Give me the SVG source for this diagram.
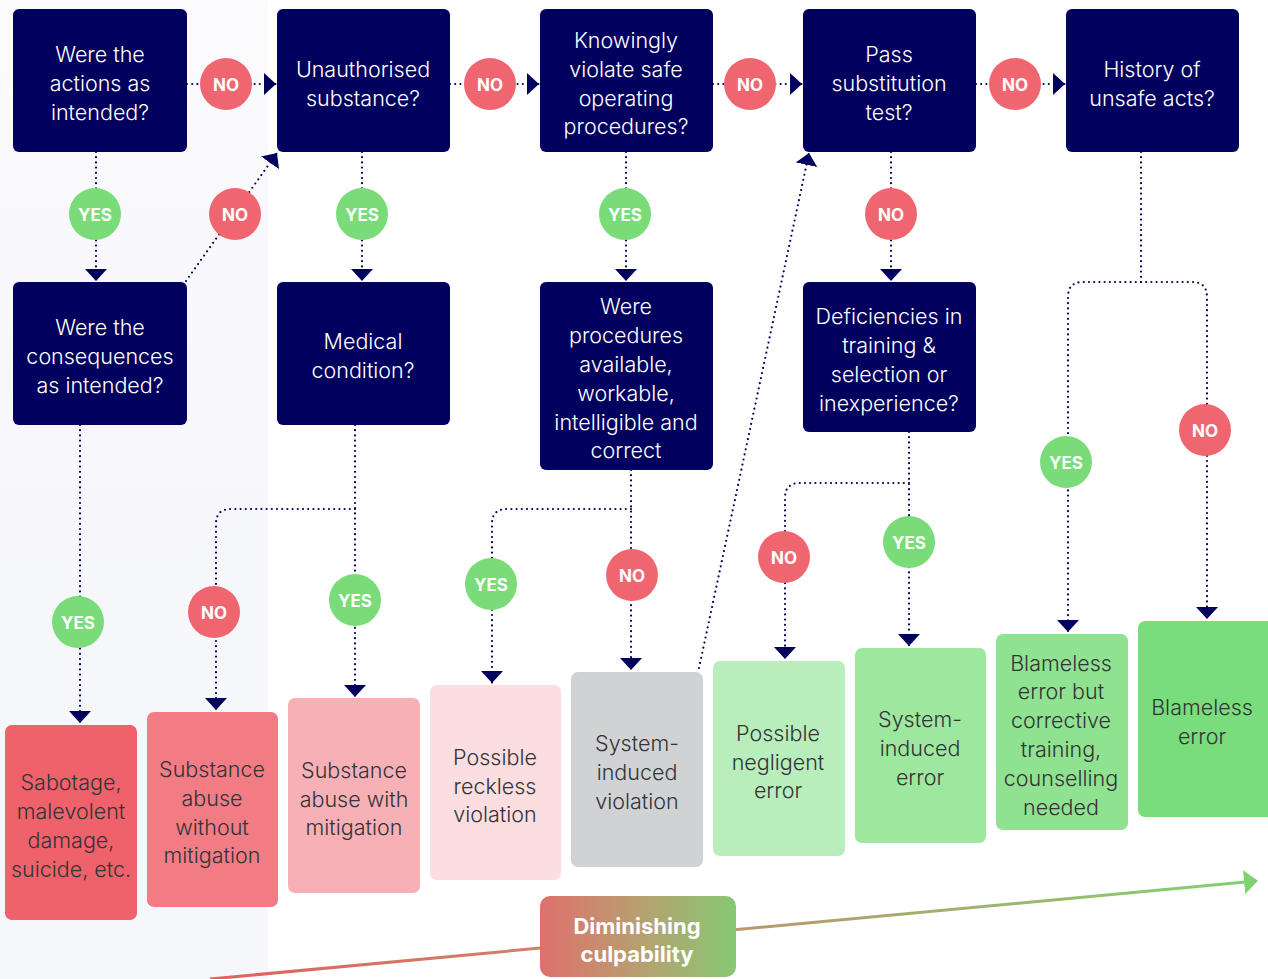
<svg xmlns="http://www.w3.org/2000/svg" width="1268" height="979" viewBox="0 0 1268 979">
<defs>
<style>
.q{fill:#01005f}
.qt{font-family:Inter,"Liberation Sans",sans-serif;font-weight:300;font-size:21.5px;fill:#ffffff;text-anchor:middle}
.ot{font-family:Inter,"Liberation Sans",sans-serif;font-weight:300;font-size:21.5px;fill:#333338;text-anchor:middle}
.c{fill:none;stroke:#01005f;stroke-width:2.2;stroke-linecap:round;stroke-dasharray:0 5.2;marker-end:url(#ah)}
.cn{fill:none;stroke:#01005f;stroke-width:2.2;stroke-linecap:round;stroke-dasharray:0 5.2}
.no{fill:#ef6670}
.yes{fill:#79dc79}
.bt{font-family:Inter,"Liberation Sans",sans-serif;font-weight:700;font-size:17px;fill:#ffffff;text-anchor:middle}
</style>
<marker id="ah" viewBox="0 0 12 22" refX="12" refY="11" markerWidth="12" markerHeight="22" markerUnits="userSpaceOnUse" orient="auto">
<path d="M0,0 L12,11 L0,22 Z" fill="#01005f"/>
</marker>
<marker id="gah" viewBox="0 0 14 24" refX="12" refY="12" markerWidth="14" markerHeight="24" markerUnits="userSpaceOnUse" orient="auto">
<path d="M0,0 L14,12 L0,24 Z" fill="#7ed36f"/>
</marker>
<linearGradient id="bg" x1="0" y1="0" x2="0" y2="1">
<stop offset="0" stop-color="#fbfbfe"/>
<stop offset="1" stop-color="#f3f4f9"/>
</linearGradient>
<linearGradient id="lg" gradientUnits="userSpaceOnUse" x1="210" y1="0" x2="1255" y2="0">
<stop offset="0" stop-color="#e0625e"/>
<stop offset="0.4" stop-color="#c98a6c"/>
<stop offset="1" stop-color="#7ed36f"/>
</linearGradient>
<linearGradient id="dg" x1="0" y1="0" x2="1" y2="0">
<stop offset="0" stop-color="#e0706c"/>
<stop offset="0.5" stop-color="#b89f70"/>
<stop offset="1" stop-color="#88c872"/>
</linearGradient>
</defs>
<rect x="0" y="0" width="1268" height="979" fill="#ffffff"/>
<rect x="0" y="0" width="268" height="979" fill="url(#bg)"/>
<polygon points="0,660 268,505 268,979 0,979" fill="#f6f7fb"/>

<g id="culpability-axis">
<path d="M210,979 L1256,881" fill="none" stroke="url(#lg)" stroke-width="3" marker-end="url(#gah)"/>
</g>

<g id="connectors">
<path class="c" d="M187,84 H276"/>
<path class="c" d="M450,84 H539"/>
<path class="c" d="M713,84 H802"/>
<path class="c" d="M976,84 H1065"/>
<path class="c" d="M96,152 V281"/>
<path class="c" d="M186,281 L277,153"/>
<path class="c" d="M362,152 V281"/>
<path class="c" d="M626,152 V281"/>
<path class="c" d="M891,152 V281"/>
<path class="c" d="M80,425 V723"/>
<path class="c" d="M355,425 V697"/>
<path class="c" d="M355,509 H231 Q216,509 216,524 V710"/>
<path class="c" d="M631,470 V670"/>
<path class="c" d="M631,509 H507 Q492,509 492,524 V683"/>
<path class="c" d="M909,432 V646"/>
<path class="c" d="M909,483 H800 Q785,483 785,498 V659"/>
<path class="cn" d="M1141,152 V282"/>
<path class="c" d="M1141,282 H1083 Q1068,282 1068,297 V632"/>
<path class="c" d="M1141,282 H1192 Q1207,282 1207,297 V619"/>
<path class="c" d="M699,668 L809,153"/>
</g>

<g id="labels">
<circle class="no" cx="226" cy="84" r="26"/><text class="bt" x="226" y="90.5">NO</text>
<circle class="no" cx="490" cy="84" r="26"/><text class="bt" x="490" y="90.5">NO</text>
<circle class="no" cx="750" cy="84" r="26"/><text class="bt" x="750" y="90.5">NO</text>
<circle class="no" cx="1015" cy="84" r="26"/><text class="bt" x="1015" y="90.5">NO</text>
<circle class="yes" cx="95" cy="214" r="26"/><text class="bt" x="95" y="220.5">YES</text>
<circle class="no" cx="235" cy="214" r="26"/><text class="bt" x="235" y="220.5">NO</text>
<circle class="yes" cx="362" cy="214" r="26"/><text class="bt" x="362" y="220.5">YES</text>
<circle class="yes" cx="625" cy="214" r="26"/><text class="bt" x="625" y="220.5">YES</text>
<circle class="no" cx="891" cy="214" r="26"/><text class="bt" x="891" y="220.5">NO</text>
<circle class="yes" cx="1066" cy="462" r="26"/><text class="bt" x="1066" y="468.5">YES</text>
<circle class="no" cx="1205" cy="430" r="26"/><text class="bt" x="1205" y="436.5">NO</text>
<circle class="yes" cx="78" cy="622" r="26"/><text class="bt" x="78" y="628.5">YES</text>
<circle class="no" cx="214" cy="612" r="26"/><text class="bt" x="214" y="618.5">NO</text>
<circle class="yes" cx="355" cy="600" r="26"/><text class="bt" x="355" y="606.5">YES</text>
<circle class="yes" cx="491" cy="584" r="26"/><text class="bt" x="491" y="590.5">YES</text>
<circle class="no" cx="632" cy="575" r="26"/><text class="bt" x="632" y="581.5">NO</text>
<circle class="no" cx="784" cy="557" r="26"/><text class="bt" x="784" y="563.5">NO</text>
<circle class="yes" cx="909" cy="542" r="26"/><text class="bt" x="909" y="548.5">YES</text>
</g>

<g id="q-actions"><rect class="q" x="13" y="9" width="174" height="143" rx="6"/>
<text class="qt" x="100"><tspan x="100" y="62">Were the</tspan><tspan x="100" y="91">actions as</tspan><tspan x="100" y="120">intended?</tspan></text></g>
<g id="q-unauthorised"><rect class="q" x="277" y="9" width="173" height="143" rx="6"/>
<text class="qt"><tspan x="363" y="77">Unauthorised</tspan><tspan x="363" y="106">substance?</tspan></text></g>
<g id="q-knowingly"><rect class="q" x="540" y="9" width="173" height="143" rx="6"/>
<text class="qt"><tspan x="626" y="48">Knowingly</tspan><tspan x="626" y="77">violate safe</tspan><tspan x="626" y="106">operating</tspan><tspan x="626" y="134">procedures?</tspan></text></g>
<g id="q-substitution"><rect class="q" x="803" y="9" width="173" height="143" rx="6"/>
<text class="qt"><tspan x="889" y="62">Pass</tspan><tspan x="889" y="91">substitution</tspan><tspan x="889" y="120">test?</tspan></text></g>
<g id="q-history"><rect class="q" x="1066" y="9" width="173" height="143" rx="6"/>
<text class="qt"><tspan x="1152" y="77">History of</tspan><tspan x="1152" y="106">unsafe acts?</tspan></text></g>

<g id="q-consequences"><rect class="q" x="13" y="282" width="174" height="143" rx="6"/>
<text class="qt"><tspan x="100" y="335">Were the</tspan><tspan x="100" y="364">consequences</tspan><tspan x="100" y="393">as intended?</tspan></text></g>
<g id="q-medical"><rect class="q" x="277" y="282" width="173" height="143" rx="6"/>
<text class="qt"><tspan x="363" y="349">Medical</tspan><tspan x="363" y="378">condition?</tspan></text></g>
<g id="q-procedures"><rect class="q" x="540" y="282" width="173" height="188" rx="6"/>
<text class="qt"><tspan x="626" y="314">Were</tspan><tspan x="626" y="343">procedures</tspan><tspan x="626" y="372">available,</tspan><tspan x="626" y="401">workable,</tspan><tspan x="626" y="430">intelligible and</tspan><tspan x="626" y="458">correct</tspan></text></g>
<g id="q-deficiencies"><rect class="q" x="803" y="282" width="173" height="150" rx="6"/>
<text class="qt"><tspan x="889" y="324">Deficiencies in</tspan><tspan x="889" y="353">training &amp;</tspan><tspan x="889" y="382">selection or</tspan><tspan x="889" y="411">inexperience?</tspan></text></g>

<g id="o-sabotage"><rect x="5" y="725" width="132" height="195" rx="7" fill="#ef626b"/>
<text class="ot"><tspan x="71" y="790">Sabotage,</tspan><tspan x="71" y="819">malevolent</tspan><tspan x="71" y="848">damage,</tspan><tspan x="71" y="877">suicide, etc.</tspan></text></g>
<g id="o-substance-without"><rect x="147" y="712" width="131" height="195" rx="7" fill="#f27c84"/>
<text class="ot"><tspan x="212" y="777">Substance</tspan><tspan x="212" y="806">abuse</tspan><tspan x="212" y="835">without</tspan><tspan x="212" y="863">mitigation</tspan></text></g>
<g id="o-substance-with"><rect x="288" y="698" width="132" height="195" rx="7" fill="#f7b1b6"/>
<text class="ot"><tspan x="354" y="778">Substance</tspan><tspan x="354" y="807">abuse with</tspan><tspan x="354" y="835">mitigation</tspan></text></g>
<g id="o-reckless"><rect x="430" y="685" width="131" height="195" rx="7" fill="#fcdde0"/>
<text class="ot"><tspan x="495" y="765">Possible</tspan><tspan x="495" y="794">reckless</tspan><tspan x="495" y="822">violation</tspan></text></g>
<g id="o-system-violation"><rect x="571" y="672" width="132" height="195" rx="7" fill="#d1d2d4"/>
<text class="ot"><tspan x="637" y="751">System-</tspan><tspan x="637" y="780">induced</tspan><tspan x="637" y="809">violation</tspan></text></g>
<g id="o-negligent"><rect x="713" y="661" width="132" height="195" rx="7" fill="#b8edbc"/>
<text class="ot"><tspan x="778" y="741">Possible</tspan><tspan x="778" y="770">negligent</tspan><tspan x="778" y="798">error</tspan></text></g>
<g id="o-system-error"><rect x="855" y="648" width="131" height="195" rx="7" fill="#9de79e"/>
<text class="ot"><tspan x="920" y="727">System-</tspan><tspan x="920" y="756">induced</tspan><tspan x="920" y="785">error</tspan></text></g>
<g id="o-blameless-corrective"><rect x="996" y="634" width="132" height="196" rx="7" fill="#8fe290"/>
<text class="ot"><tspan x="1061" y="671">Blameless</tspan><tspan x="1061" y="699">error but</tspan><tspan x="1061" y="728">corrective</tspan><tspan x="1061" y="757">training,</tspan><tspan x="1061" y="786">counselling</tspan><tspan x="1061" y="815">needed</tspan></text></g>
<g id="o-blameless"><rect x="1138" y="621" width="136" height="196" rx="7" fill="#78dd7a"/>
<text class="ot"><tspan x="1202" y="715">Blameless</tspan><tspan x="1202" y="744">error</tspan></text></g>

<g id="diminishing"><rect x="540" y="896" width="196" height="81" rx="10" fill="url(#dg)"/>
<text font-family="Inter,'Liberation Sans',sans-serif" font-weight="700" font-size="22" fill="#ffffff" text-anchor="middle"><tspan x="637" y="934">Diminishing</tspan><tspan x="637" y="962">culpability</tspan></text></g>
</svg>
